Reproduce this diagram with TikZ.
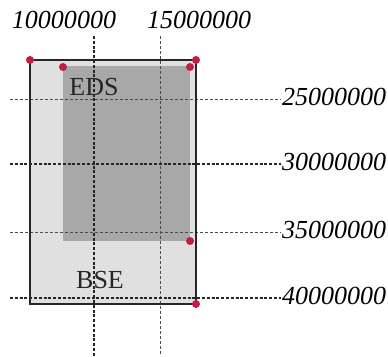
\documentclass[tikz,border=0pt]{standalone}
\usepackage{fontspec}
\setmainfont{Liberation Serif}
\begin{document}
\begin{tikzpicture}[x=1pt,y=-1pt,
  lbl/.style={font=\fontsize{26}{30}\selectfont\itshape, inner sep=0pt},
  tag/.style={font=\fontsize{26}{30}\selectfont, inner sep=0pt, text=black!85},
  gridA/.style={dash pattern=on 3pt off 1.8pt, line width=1.1pt, black!85},
  gridB/.style={dash pattern=on 3pt off 2pt, line width=0.8pt, black!70},
  dot/.style={circle, fill=dotred, inner sep=0pt, minimum size=8pt}]
\useasboundingbox (0,0) rectangle (388,356);
\definecolor{dotred}{RGB}{196,28,66}
% outer BSE area
\fill[black!12] (30,60) rectangle (196,304);
% inner EDS area
\fill[black!34] (63,66) rectangle (190,241);
% grid lines
\draw[gridA] (94,36) -- (94,356);
\draw[gridB] (160,36) -- (160,356);
\draw[gridB] (10,99) -- (281,99);
\draw[gridA] (10,164) -- (281,164);
\draw[gridB] (10,232) -- (281,232);
\draw[gridA] (10,298) -- (281,298);
% outer border
\draw[line width=1.4pt, black!85] (30,60) rectangle (196,304);
% labels
\node[lbl] (x1) at (64,20) {10000000};
\node[lbl] (x2) at (199,20) {15000000};
\node[lbl, anchor=west] (y1) at (282,97) {25000000};
\node[lbl, anchor=west] (y2) at (282,162) {30000000};
\node[lbl, anchor=west] (y3) at (282,230) {35000000};
\node[lbl, anchor=west] (y4) at (282,296) {40000000};
\node[tag] (eds) at (94,87) {EDS};
\node[tag] (bse) at (100,280) {BSE};
% dots
\foreach \p/\n in {{(30,60)}/d1,{(196,60)}/d2,{(63,67)}/d3,{(190,67)}/d4,{(190,241)}/d5,{(196,304)}/d6}
  \node[dot] (\n) at \p {};
\end{tikzpicture}
\end{document}
